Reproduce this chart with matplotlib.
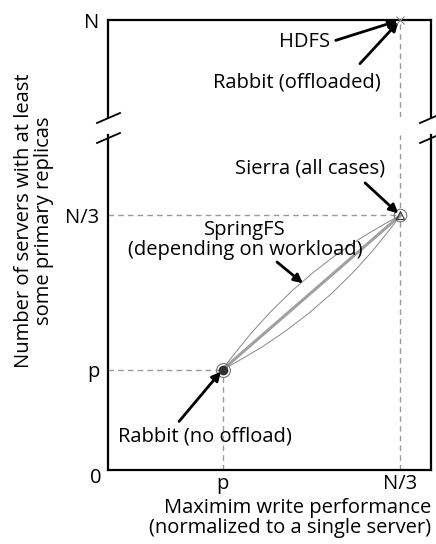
import numpy as np
import matplotlib
matplotlib.use("Agg")
import matplotlib.pyplot as plt
from matplotlib.path import Path
from matplotlib.patches import PathPatch
from matplotlib.lines import Line2D

plt.rcParams['font.family'] = ['Open Sans', 'DejaVu Sans']

# positions on the (unitless) axes
x_p, x_n3 = 0.355, 0.905
y_p, y_n3 = 0.30, 0.76
y_n = 1.0

xtick_vals = [x_p, x_n3]
xtick_labels = ["p", "N/3"]
ytick_vals = [y_p, y_n3]
ytick_labels = ["p", "N/3"]

rabbit_no = (x_p, y_p)
sierra = (x_n3, y_n3)
hdfs = (x_n3, y_n)

W, H = 436, 544
fig = plt.figure(figsize=(W / 100, H / 100), dpi=100)

def pos(l, t, r, b):
    return [l / W, 1 - b / H, (r - l) / W, (b - t) / H]

ax = fig.add_axes(pos(108, 135, 431, 470))
axt = fig.add_axes(pos(108, 20, 431, 117))

fs = 14.5
for a in (ax, axt):
    a.set_xlim(0, 1)
    for s in a.spines.values():
        s.set_linewidth(1.6)
    a.tick_params(length=0, labelsize=fs)
ax.set_ylim(0, 1)
axt.set_ylim(0.7, 1.0)
ax.spines['top'].set_visible(False)
axt.spines['bottom'].set_visible(False)
axt.set_xticks([])
axt.set_yticks([y_n])
axt.set_yticklabels(["N"])
axt.tick_params(axis='y', pad=6)

ax.set_xticks(xtick_vals)
ax.set_xticklabels(xtick_labels)
ax.set_yticks(ytick_vals)
ax.set_yticklabels(ytick_labels)
ax.tick_params(axis='y', pad=6)
ax.tick_params(axis='x', pad=3)
fig.text(96 / W, 1 - 478 / H, "0", fontsize=fs, ha='center', va='center')

dash = dict(color='#999999', lw=1.0, ls=(0, (4, 3)), zorder=1)
# guide lines
ax.plot([0, x_p], [y_p, y_p], **dash)
ax.plot([x_p, x_p], [0, y_p], **dash)
ax.plot([0, x_n3], [y_n3, y_n3], **dash)
ax.plot([x_n3, x_n3], [0, 1], **dash)
axt.plot([x_n3, x_n3], [0.7, y_n], **dash)

# SpringFS range: thick line + lens outline
ax.plot([rabbit_no[0], sierra[0]], [rabbit_no[1], sierra[1]], color='#a0a0a0', lw=2.2, zorder=2)
dx, dy = sierra[0] - rabbit_no[0], sierra[1] - rabbit_no[1]
mx, my = (rabbit_no[0] + sierra[0]) / 2, (rabbit_no[1] + sierra[1]) / 2
off = 0.12
verts = [rabbit_no, (mx - dy * off, my + dx * off), sierra,
         (mx + dy * off, my - dx * off), rabbit_no]
codes = [Path.MOVETO, Path.CURVE3, Path.CURVE3, Path.CURVE3, Path.CURVE3]
ax.add_patch(PathPatch(Path(verts, codes), fill=False, ec='#888888', lw=0.7, zorder=2))

# markers
ax.plot(*rabbit_no, 'o', ms=10, mfc='none', mec='#777777', mew=0.8, zorder=3)
ax.plot(*rabbit_no, 'o', ms=6, color='#333333', zorder=4)
ax.plot(*sierra, 'o', ms=9, mfc='none', mec='#777777', mew=0.8, zorder=3)
ax.plot(*sierra, '^', ms=6, mfc='none', mec='#333333', mew=0.8, zorder=4)
axt.plot(*hdfs, 'x', ms=6, color='#888888', mew=0.8, zorder=4, clip_on=False)

arr = dict(arrowstyle='-|>', color='black', lw=2, mutation_scale=13, shrinkA=0, shrinkB=2)
axt.text(0.61, 0.77, "HDFS", transform=axt.transAxes, fontsize=fs,
         ha='center', va='center')
axt.annotate("", xy=hdfs, xytext=(0.705, 0.79), textcoords='axes fraction', arrowprops=arr)
axt.annotate("", xy=hdfs, xytext=(0.78, 0.55), textcoords='axes fraction', arrowprops=arr)
axt.text(0.585, 0.36, "Rabbit (offloaded)", transform=axt.transAxes, fontsize=fs,
         ha='center', va='center')
ax.annotate("", xy=sierra, xytext=(0.796, 0.857), textcoords='axes fraction', arrowprops=arr)
ax.text(0.625, 0.9, "Sierra (all cases)", transform=ax.transAxes, fontsize=fs,
        ha='center', va='center')
ax.text(0.425, 0.687, "SpringFS\n(depending on workload)", transform=ax.transAxes,
        fontsize=fs, ha='center', va='center', linespacing=1.0)
ax.annotate("", xy=(0.61, 0.552), xytext=(0.523, 0.621), textcoords='axes fraction',
            xycoords='axes fraction', arrowprops=arr)
ax.annotate("", xy=rabbit_no, xytext=(0.22, 0.145), textcoords='axes fraction', arrowprops=arr)
ax.text(0.30, 0.10, "Rabbit (no offload)", transform=ax.transAxes, fontsize=fs,
        ha='center', va='center')

# axis labels
fig.text(34 / W, 1 - 221 / H, "Number of servers with at least\nsome primary replicas",
         rotation=90, fontsize=fs, ha='center', va='center', linespacing=1.0)
fig.text(431 / W, 1 - 518 / H, "Maximim write performance\n(normalized to a single server)",
         fontsize=fs, ha='right', va='center', linespacing=1.0)

# break marks
for xc in (108, 431):
    for yc in (118, 138):
        fig.add_artist(Line2D([(xc - 11) / W, (xc + 12) / W],
                              [1 - (yc + 5) / H, 1 - (yc - 5) / H],
                              color='black', lw=1.3))

fig.savefig("out.png", dpi=100)
